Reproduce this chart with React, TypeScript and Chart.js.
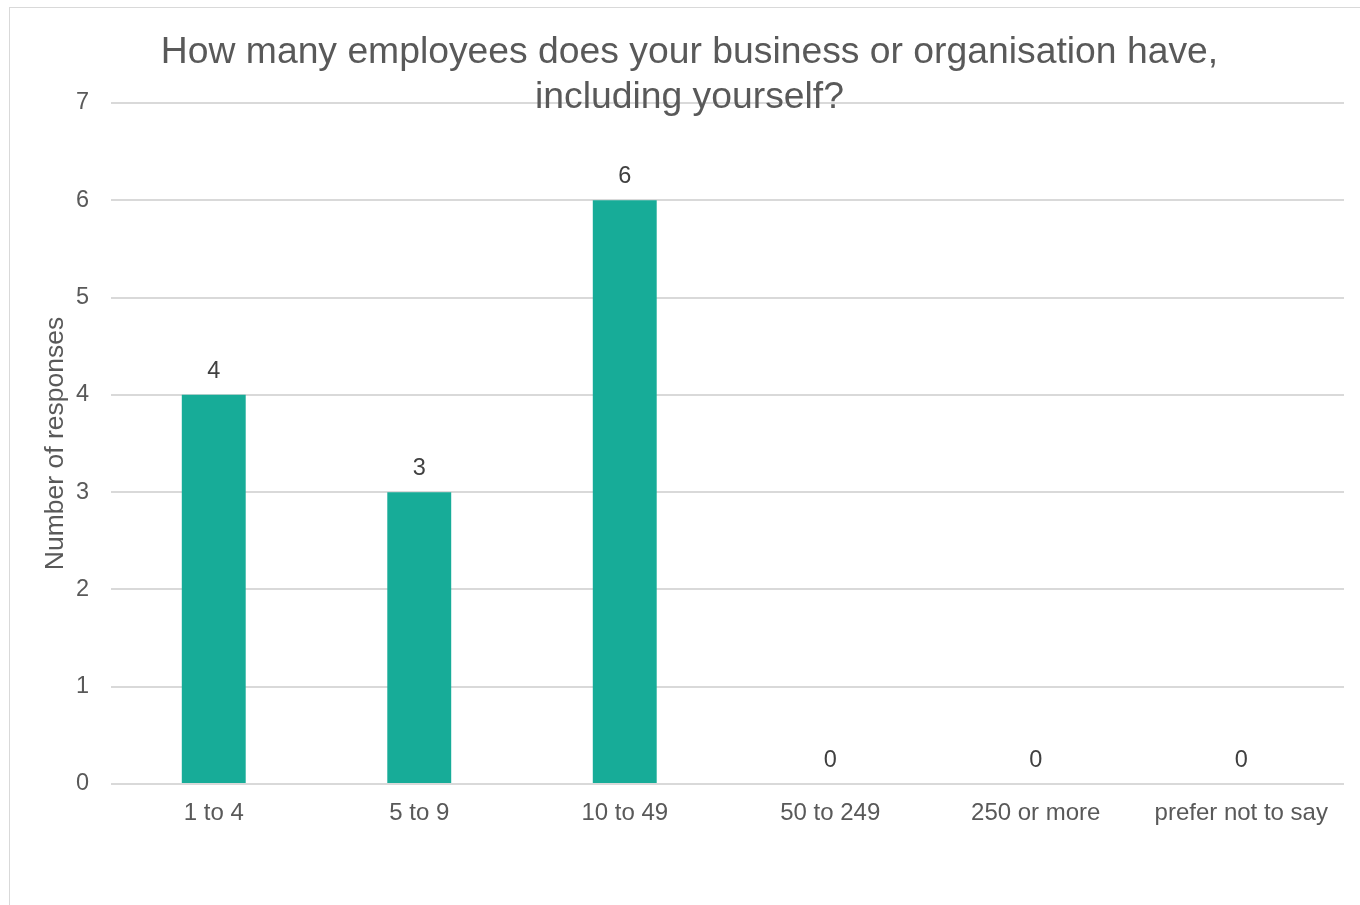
import React, { useEffect, useRef } from "react";
import { Chart, registerables } from "chart.js";

Chart.register(...registerables);

const categories = ["1 to 4", "5 to 9", "10 to 49", "50 to 249", "250 or more", "prefer not to say"];
const responses = [4, 3, 6, 0, 0, 0];
const titleLines = ["How many employees does your business or organisation have,", "including yourself?"];
const yAxisTitle = "Number of responses";

const FONT = "'Liberation Sans', Arial, sans-serif";

export default function App() {
  const ref = useRef<HTMLCanvasElement | null>(null);

  useEffect(() => {
    if (!ref.current) return;
    const titlePlugin = {
      id: "excelTitle",
      afterDraw(chart: any) {
        const ctx = chart.ctx;
        ctx.save();
        ctx.font = `37.3px ${FONT}`;
        ctx.fillStyle = "#595959";
        ctx.textAlign = "center";
        ctx.textBaseline = "alphabetic";
        ctx.fillText(titleLines[0], 679.5, 55);
        ctx.fillText(titleLines[1], 679.5, 100);
        ctx.restore();
      },
    };
    const labelPlugin = {
      id: "valueLabels",
      afterDatasetsDraw(chart: any) {
        const ctx = chart.ctx;
        const meta = chart.getDatasetMeta(0);
        ctx.save();
        ctx.font = `23.5px ${FONT}`;
        ctx.fillStyle = "#404040";
        ctx.textAlign = "center";
        ctx.textBaseline = "alphabetic";
        meta.data.forEach((bar: any, i: number) => {
          ctx.fillText(String(responses[i]), bar.x, bar.y - 17);
        });
        ctx.restore();
      },
    };
    const chart = new Chart(ref.current, {
      type: "bar",
      data: {
        labels: categories,
        datasets: [
          {
            data: responses,
            backgroundColor: "#17AC98",
            borderWidth: 0,
            barPercentage: 0.311,
            categoryPercentage: 1,
          },
        ],
      },
      options: {
        responsive: false,
        animation: false,
        devicePixelRatio: 1,
        layout: { padding: { top: 95, right: 26, left: 0, bottom: 0 } },
        plugins: {
          legend: { display: false },
          title: { display: false },
          tooltip: { enabled: false },
        },
        scales: {
          x: {
            grid: { display: false },
            border: { display: false },
            ticks: {
              color: "#595959",
              font: { family: FONT, size: 24 },
              padding: 7,
              maxRotation: 0,
              autoSkip: false,
            },
            afterFit(scale: any) {
              scale.height = 129;
            },
          },
          y: {
            min: 0,
            max: 7,
            ticks: {
              stepSize: 1,
              color: "#595959",
              font: { family: FONT, size: 23.5 },
              padding: 22,
            },
            grid: { color: "#d9d9d9", lineWidth: 2, drawTicks: false },
            border: { display: false },
            title: {
              display: true,
              text: yAxisTitle,
              color: "#595959",
              font: { family: FONT, size: 26.5 },
              padding: { top: 30, bottom: 0 },
            },
            afterFit(scale: any) {
              scale.width = 101;
            },
          },
        },
      },
      plugins: [titlePlugin, labelPlugin],
    });
    return () => chart.destroy();
  }, []);

  return (
    <div style={{ position: "fixed", left: 0, top: 0, width: 1360, height: 905, overflow: "hidden", background: "#fff" }}>
      <div
        style={{
          position: "absolute",
          left: 9,
          top: 7,
          width: 1362,
          height: 920,
          border: "1px solid #d9d9d9",
          boxSizing: "border-box",
          background: "#fff",
        }}
      >
        <canvas ref={ref} width={1360} height={905} style={{ display: "block", width: 1360, height: 905 }} />
      </div>
    </div>
  );
}
